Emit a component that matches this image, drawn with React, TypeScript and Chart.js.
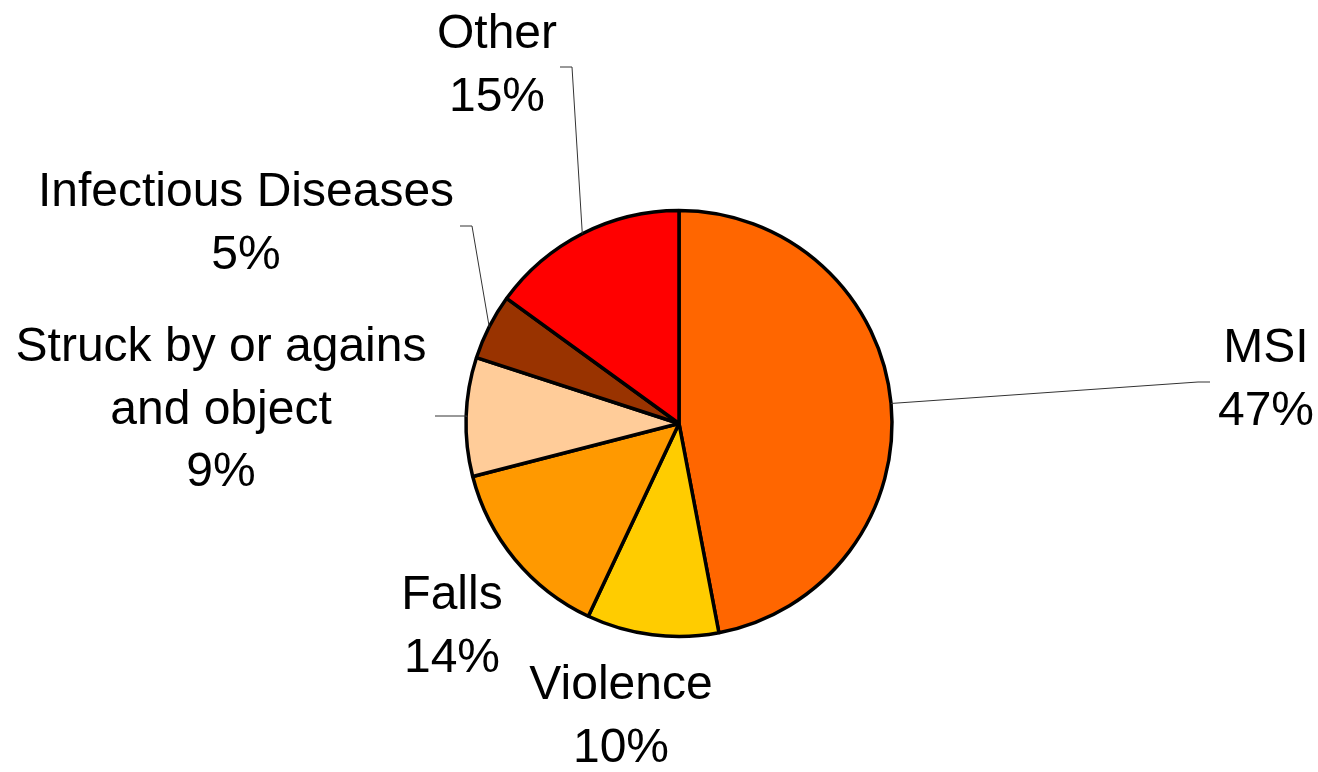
import React, { useEffect, useRef } from "react";
import { Chart, registerables } from "chart.js";

Chart.register(...registerables);

// ---- data ----
const categories: (string | string[])[] = [
  "MSI",
  "Violence",
  "Falls",
  ["Struck by or agains", "and object"],
  "Infectious Diseases",
  "Other",
];
const values: number[] = [47, 10, 14, 9, 5, 15];
const colors: string[] = ["#FF6600", "#FFCC00", "#FF9900", "#FFCC99", "#993300", "#FF0000"];

// ---- label layout (text centre x, first baseline y, optional leader elbow/end) ----
type LabelPos = { x: number; y: number; elbow?: [number, number]; endX?: number };
const labelLayout: LabelPos[] = [
  { x: 1266, y: 362, elbow: [1198, 382], endX: 1210 },
  { x: 621, y: 699 },
  { x: 452, y: 609 },
  { x: 221, y: 361, elbow: [467, 416], endX: 435 },
  { x: 246, y: 206, elbow: [472, 226], endX: 460 },
  { x: 497, y: 48, elbow: [572, 67], endX: 560 },
];
const LINE_H = 62.5;
const FONT = '48px "Liberation Sans", Arial, sans-serif';

const labelPlugin = {
  id: "outerLabels",
  afterDatasetsDraw(chart: any) {
    const ctx: CanvasRenderingContext2D = chart.ctx;
    const meta = chart.getDatasetMeta(0);
    const data: number[] = chart.data.datasets[0].data;
    const total = data.reduce((a, b) => a + b, 0);
    ctx.save();
    meta.data.forEach((arc: any, i: number) => {
      const p = arc.getProps(["x", "y", "startAngle", "endAngle", "outerRadius"], true);
      const mid = (p.startAngle + p.endAngle) / 2;
      const ex = p.x + Math.cos(mid) * p.outerRadius;
      const ey = p.y + Math.sin(mid) * p.outerRadius;
      const lay = labelLayout[i];
      if (lay.elbow) {
        ctx.beginPath();
        ctx.strokeStyle = "#333";
        ctx.lineWidth = 1;
        ctx.moveTo(ex, ey);
        ctx.lineTo(lay.elbow[0], lay.elbow[1]);
        ctx.lineTo(lay.endX as number, lay.elbow[1]);
        ctx.stroke();
      }
      const lbl = chart.data.labels[i];
      const lines: string[] = Array.isArray(lbl) ? [...lbl] : [lbl];
      lines.push(Math.round((data[i] / total) * 100) + "%");
      ctx.fillStyle = "#000";
      ctx.font = FONT;
      ctx.textAlign = "center";
      ctx.textBaseline = "alphabetic";
      lines.forEach((t, k) => ctx.fillText(t, lay.x, lay.y + k * LINE_H));
    });
    ctx.restore();
  },
};

export default function App() {
  const ref = useRef<HTMLCanvasElement>(null);
  useEffect(() => {
    if (!ref.current) return;
    const chart = new Chart(ref.current, {
      type: "pie",
      data: {
        labels: categories as any,
        datasets: [
          {
            data: values,
            backgroundColor: colors,
            borderColor: "#000",
            borderWidth: 3.5,
            radius: 213,
          } as any,
        ],
      },
      options: {
        responsive: false,
        animation: false,
        layout: { padding: { left: 40, right: 0, top: 75, bottom: 0 } },
        plugins: {
          legend: { display: false },
          title: { display: false },
          tooltip: { enabled: false },
        },
      },
      plugins: [labelPlugin],
    });
    return () => chart.destroy();
  }, []);
  return (
    <div style={{ position: "fixed", left: 0, top: 0, width: 1318, height: 772, background: "#fff" }}>
      <canvas ref={ref} width={1318} height={772} style={{ width: 1318, height: 772 }} />
    </div>
  );
}
